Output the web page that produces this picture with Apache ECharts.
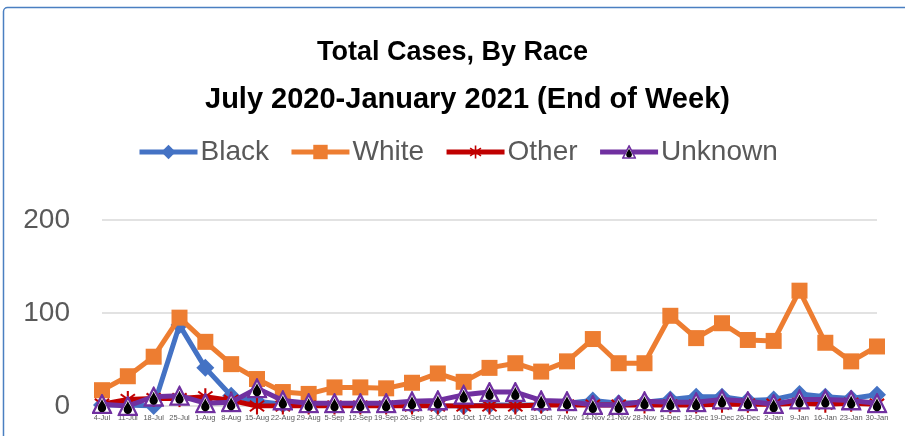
<!DOCTYPE html>
<html>
<head>
<meta charset="utf-8">
<script src="https://cdn.jsdelivr.net/npm/echarts@6/dist/echarts.min.js"></script>
<style>
html,body{margin:0;padding:0;background:#fff;}
#c{width:905px;height:436px;}
</style>
</head>
<body>
<div id="c"></div>
<script>
const categories = ['4-Jul','11-Jul','18-Jul','25-Jul','1-Aug','8-Aug','15-Aug','22-Aug','29-Aug','5-Sep','12-Sep','19-Sep','26-Sep','3-Oct','10-Oct','17-Oct','24-Oct','31-Oct','7-Nov','14-Nov','21-Nov','28-Nov','5-Dec','12-Dec','19-Dec','26-Dec','2-Jan','9-Jan','16-Jan','23-Jan','30-Jan'];
const black   = [1,1,0,87,41,11,5,2,1,1,1,1,1,0,0,1,1,1,3,6,3,4,7,10,10,6,7,13,10,8,12];
const white   = [17,32,53,95,69,45,29,15,13,20,20,19,25,35,26,41,46,37,48,72,46,46,97,73,89,71,70,124,68,48,64];
const other   = [2,7,8,8,10,6,0,0,0,0,0,0,0,0,0,0,0,1,1,1,1,1,1,1,2,2,2,3,2,3,2];
const unknown = [2,0,10,11,3,4,19,6,3,3,3,3,5,6,12,15,15,6,5,1,1,5,4,4,7,5,2,7,7,6,3];
const yTicks = [0,100,200];

function svgUrl(s){ return 'image://data:image/svg+xml;charset=utf-8,' + encodeURIComponent(s); }
const triSym = svgUrl('<svg xmlns="http://www.w3.org/2000/svg" width="40" height="40" viewBox="0 0 20 20"><polygon points="10,1.6 18.6,18.4 1.4,18.4" fill="#ffffff" stroke="#7030A0" stroke-width="2.2" stroke-linejoin="miter"/><path d="M10,5.2 C10.8,8 14,10.8 14,13.6 A4,4 0 0 1 6,13.6 C6,10.8 9.2,8 10,5.2 Z" fill="#000000"/></svg>');
const starSym = svgUrl('<svg xmlns="http://www.w3.org/2000/svg" width="40" height="40" viewBox="0 0 20 20"><g stroke="#C00000" stroke-width="2.2" stroke-linecap="butt"><line x1="10" y1="1" x2="10" y2="19"/><line x1="2.5" y1="4.5" x2="17.5" y2="15.5"/><line x1="17.5" y1="4.5" x2="2.5" y2="15.5"/></g></svg>');

const chart = echarts.init(document.getElementById('c'));
const FONT = 'Liberation Sans';
chart.setOption({
  animation:false,
  backgroundColor:'#ffffff',
  graphic:[{type:'rect', shape:{x:3.5,y:7.5,width:940,height:460,r:4}, style:{fill:'none',stroke:'#4a7fc1',lineWidth:1.5}, silent:true, z:-1}],
  title:[
    {text:'Total Cases, By Race', left:'center', top:34, textStyle:{fontFamily:FONT,fontSize:27,fontWeight:'bold',color:'#000'}},
    {text:'July 2020-January 2021 (End of Week)', left:200, top:80, textStyle:{fontFamily:FONT,fontSize:29,fontWeight:'bold',color:'#000'}}
  ],
  legend:{
    top:133, left:132, itemGap:20, itemWidth:58, itemHeight:18,
    lineStyle:{width:5},
    textStyle:{fontFamily:FONT,fontSize:28,color:'#595959',padding:[0,0,0,-2]},
    data:['Black','White','Other','Unknown']
  },
  grid:{left:102,right:28,top:220,bottom:30},
  xAxis:{
    type:'category', data:categories, boundaryGap:false,
    axisLine:{show:false}, axisTick:{show:false},
    axisLabel:{interval:0,fontFamily:FONT,fontSize:7.5,color:'#595959',margin:8}
  },
  yAxis:{
    type:'value', min:0, max:200, interval:100,
    axisLine:{show:false}, axisTick:{show:false},
    splitLine:{lineStyle:{color:'#d9d9d9',width:1.5}},
    axisLabel:{fontFamily:FONT,fontSize:28,color:'#595959',margin:32,
      formatter:function(v){return yTicks.indexOf(v)>=0?String(v):'';}}
  },
  series:[
    {name:'Black',type:'line',data:black,color:'#4472C4',lineStyle:{width:5,color:'#4472C4'},symbol:'diamond',symbolSize:18,itemStyle:{color:'#4472C4'},z:2},
    {name:'White',type:'line',data:white,color:'#ED7D31',lineStyle:{width:5,color:'#ED7D31'},symbol:'rect',symbolSize:16,itemStyle:{color:'#ED7D31'},z:3},
    {name:'Other',type:'line',data:other,color:'#C00000',lineStyle:{width:5,color:'#C00000'},symbol:starSym,symbolSize:19,itemStyle:{color:'#C00000'},z:4},
    {name:'Unknown',type:'line',data:unknown,color:'#7030A0',lineStyle:{width:5,color:'#7030A0'},symbol:triSym,symbolSize:21,itemStyle:{color:'#7030A0'},z:5}
  ]
});
</script>
</body>
</html>
